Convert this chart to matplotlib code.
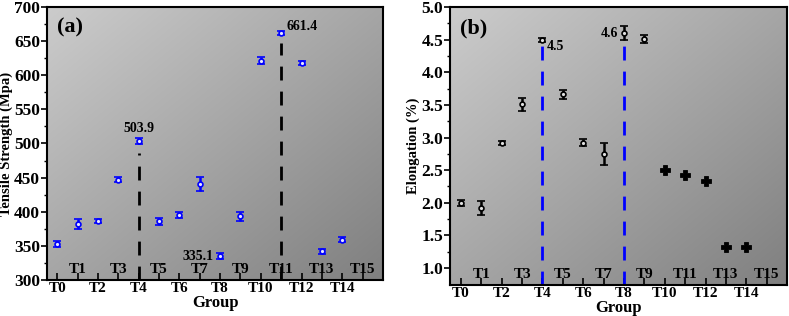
import numpy as np
import matplotlib.pyplot as plt

plt.rcParams['font.family'] = ['Liberation Serif', 'DejaVu Serif']
plt.rcParams['font.weight'] = 'bold'

# group labels T0..T15
groups = ['T%d' % i for i in range(16)]

# tensile strength (Mpa), T0..T14
strength = [353, 382, 387, 447, 503.9, 386, 395, 441, 335.1, 393, 621, 661.4, 618, 342, 359]
strength_err = [4, 7, 3, 4, 4, 5, 4, 10, 4, 6, 5, 3, 3, 4, 4]

# elongation (%), T0..T14
elong = [2.0, 1.92, 2.92, 3.51, 4.5, 3.66, 2.92, 2.75, 4.6, 4.51, 2.5, 2.42, 2.34, 1.33, 1.33]
elong_err = [0.05, 0.1, 0.03, 0.1, 0.03, 0.07, 0.05, 0.17, 0.11, 0.06]


def gradient_bg(ax):
    xx, yy = np.meshgrid(np.linspace(0, 1, 200), np.linspace(1, 0, 200))
    g = 0.80 - 0.15 * xx - 0.15 * (1 - yy)
    img = np.dstack([g, g, g])
    ax.imshow(img, extent=[0, 1, 0, 1], transform=ax.transAxes,
              aspect='auto', zorder=0, interpolation='bilinear')


def style_axis(ax, xlo=-0.5, xhi=16):
    ax.set_xlim(xlo, xhi)
    ax.set_xticks(range(16))
    ax.set_xticklabels([g if i % 2 == 0 else '' for i, g in enumerate(groups)],
                       fontsize=11, fontweight='bold')
    ax.tick_params(axis='x', direction='in', length=5, width=1.2, pad=1.5)
    ax.tick_params(axis='y', which='major', direction='out', length=4, width=1.2,
                   labelsize=12.5, pad=1)
    ax.tick_params(axis='y', which='minor', direction='out', length=2.5, width=1.0)
    for lab in ax.get_yticklabels():
        lab.set_fontweight('bold')
    for i in range(1, 16, 2):
        ax.text(i, 0.015, groups[i], transform=ax.get_xaxis_transform(),
                ha='center', va='bottom', fontsize=11, fontweight='bold')
    for s in ax.spines.values():
        s.set_linewidth(1.5)
    ax.set_xlabel('Group', fontsize=12, fontweight='bold', labelpad=0)


fig = plt.figure(figsize=(7.89, 3.16), dpi=100)
ax1 = fig.add_axes([0.0596, 0.114, 0.4258, 0.864])
ax2 = fig.add_axes([0.5703, 0.098, 0.4272, 0.880])

x = np.arange(len(strength))

# (a) tensile strength
gradient_bg(ax1)
ax1.errorbar(x, strength, yerr=strength_err, fmt='o', color='#0000ff',
             mfc='#e8e8ff', mec='#0000ff', ms=3.5, mew=1.2,
             elinewidth=1.8, capsize=2.8, capthick=1.8, zorder=3)
ax1.vlines(4, 300, 486, colors='black', linestyles=(0, (5, 4)), lw=2, zorder=2)
ax1.vlines(11, 300, 647, colors='black', linestyles=(0, (5, 4)), lw=2, zorder=2)
ax1.text(4, 513, '503.9', ha='center', va='bottom', fontsize=10, fontweight='bold')
ax1.text(11.25, 661.4, '661.4', ha='left', va='bottom', fontsize=10, fontweight='bold')
ax1.text(7.7, 335.1, '335.1', ha='right', va='center', fontsize=10, fontweight='bold')
ax1.text(0.03, 0.96, '(a)', transform=ax1.transAxes, ha='left', va='top',
         fontsize=16, fontweight='bold')
ax1.set_ylim(300, 700)
ax1.set_yticks(np.arange(300, 701, 50))
ax1.set_yticks(np.arange(300, 701, 25), minor=True)
ax1.set_ylabel('Tensile Strength (Mpa)', fontsize=10.5, fontweight='bold', labelpad=1)
style_axis(ax1)

# (b) elongation
gradient_bg(ax2)
ax2.errorbar(x[:10], elong[:10], yerr=elong_err, fmt='o', color='black',
             mfc='#e0e0e0', mec='black', ms=3.5, mew=1.2,
             elinewidth=1.8, capsize=2.8, capthick=1.8, zorder=3)
ax2.plot(x[10:], elong[10:], 'P', color='black', ms=7.5, mec='black', mew=0.6, zorder=3)
ax2.vlines(4, 0.74, 4.42, colors='#0000ff', linestyles=(0, (5, 4)), lw=2, zorder=2)
ax2.vlines(8, 0.74, 4.42, colors='#0000ff', linestyles=(0, (5, 4)), lw=2, zorder=2)
ax2.text(4.2, 4.5, '4.5', ha='left', va='top', fontsize=10, fontweight='bold')
ax2.text(7.7, 4.6, '4.6', ha='right', va='center', fontsize=10, fontweight='bold')
ax2.text(0.03, 0.96, '(b)', transform=ax2.transAxes, ha='left', va='top',
         fontsize=16, fontweight='bold')
ax2.set_ylim(0.74, 5.0)
ax2.set_yticks(np.arange(1.0, 5.01, 0.5))
ax2.set_yticks(np.arange(1.0, 5.01, 0.25), minor=True)
ax2.set_ylabel('Elongation (%)', fontsize=10.5, fontweight='bold', labelpad=1)
style_axis(ax2, -0.54, 16)

fig.savefig('out.png', dpi=100)
